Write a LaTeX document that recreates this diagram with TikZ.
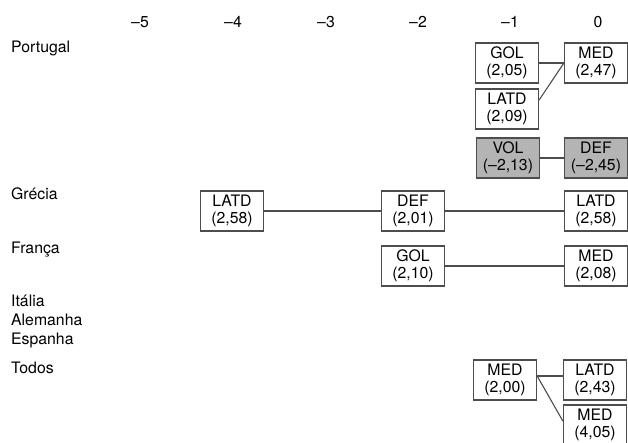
\documentclass[tikz,border=0pt]{standalone}
\usepackage{fontspec}
\setmainfont{TeX Gyre Heros}
\usetikzlibrary{positioning,calc}
\definecolor{linegray}{HTML}{4D4D4D}
\definecolor{boxgray}{HTML}{B4B4B4}
\begin{document}
\begin{tikzpicture}[x=1pt,y=-1pt,
        posbox/.style={rectangle,draw=linegray,line width=1.3pt,fill=white,minimum width=63pt,minimum height=40pt,inner sep=0pt,align=center,font=\fontsize{15.8}{17.5}\selectfont},
        negbox/.style={posbox,fill=boxgray},
        link/.style={draw=linegray,line width=1.1pt},
        country/.style={anchor=west,inner sep=0pt,align=left,font=\fontsize{15.8}{19}\selectfont},
        colnum/.style={inner sep=0pt,font=\fontsize{15.8}{17}\selectfont}]
        \useasboundingbox (0,0) rectangle (628,443);
        \foreach \v/\x in {5/140,4/233,3/326,2/418,1/510}
            \node[colnum] (col\v) at (\x,22) {\textendash\v};
        \node[colnum] (col0) at (598,22) {0};
        \node[country] (portugal) at (11,48) {Portugal};
        \node[country] (grecia) at (11,194) {Grécia};
        \node[country] (franca) at (11,250) {França};
        \node[country] (outros) at (11,321) {Itália\\Alemanha\\Espanha};
        \node[country] (todos) at (11,368) {Todos};
        \node[posbox] (golP) at (507,63) {GOL\\(2,05)};
        \node[posbox] (medP) at (596,63) {MED\\(2,47)};
        \node[posbox] (latdP) at (507,109) {LATD\\(2,09)};
        \node[negbox] (volP) at (508,158) {VOL\\(\textendash2,13)};
        \node[negbox] (defP) at (596,158) {DEF\\(\textendash2,45)};
        \node[posbox] (latdG) at (232,211) {LATD\\(2,58)};
        \node[posbox] (defG) at (413,211) {DEF\\(2,01)};
        \node[posbox] (latdGz) at (596,211) {LATD\\(2,58)};
        \node[posbox] (golF) at (413,266) {GOL\\(2,10)};
        \node[posbox] (medF) at (596,266) {MED\\(2,08)};
        \node[posbox] (medT) at (505,380) {MED\\(2,00)};
        \node[posbox] (latdT) at (595,380) {LATD\\(2,43)};
        \node[posbox] (medTb) at (595,425) {MED\\(4,05)};
        \draw[link] (golP.east) -- (medP.west);
        \draw[link] ([yshift=9pt]latdP.east) -- (medP.west);
        \draw[link] (volP.east) -- (defP.west);
        \draw[link] (latdG.east) -- (defG.west);
        \draw[link] (defG.east) -- (latdGz.west);
        \draw[link] (golF.east) -- (medF.west);
        \draw[link] ([yshift=4pt]medT.east) -- ([yshift=4pt]latdT.west);
        \draw[link] ([yshift=4pt]medT.east) -- ([yshift=4pt]medTb.west);
\end{tikzpicture}
\end{document}
